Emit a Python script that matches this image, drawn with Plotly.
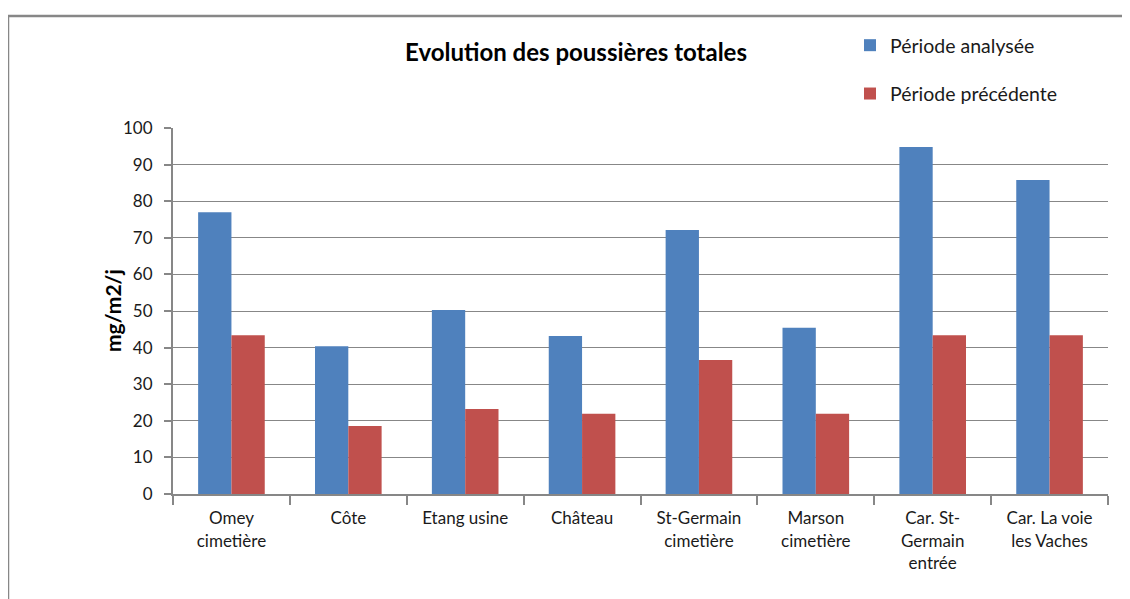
import plotly.graph_objects as go

categories = ["Omey<br>cimetière", "Côte", "Etang usine", "Château",
              "St-Germain<br>cimetière", "Marson<br>cimetière",
              "Car. St-<br>Germain<br>entrée", "Car. La voie<br>les Vaches"]
periode_analysee = [77.0, 40.4, 50.3, 43.2, 72.1, 45.4, 94.8, 85.8]
periode_precedente = [43.4, 18.6, 23.2, 21.9, 36.6, 21.9, 43.4, 43.4]
y_ticks = [0, 10, 20, 30, 40, 50, 60, 70, 80, 90, 100]

FONT = "Lato, 'Open Sans', sans-serif"
GRAY = "#878787"

W, H = 1130, 599
OFF = 8  # page body margin offset in the screenshot
L, T = 173 - OFF, 128 - OFF
R = W - (1108 - OFF)
B = H - (494 - OFF)
PW, PH = W - L - R, H - T - B


def px_x(p):
    return (p - OFF - L) / PW


def px_y(p):
    return (H - B - (p - OFF)) / PH


fig = go.Figure()
fig.add_trace(go.Bar(x=categories, y=periode_analysee, name="Période analysée",
                     marker=dict(color="#4f81bd", line=dict(width=0)), legendgroup="a"))
fig.add_trace(go.Bar(x=categories, y=periode_precedente, name="Période précédente",
                     marker=dict(color="#c0504d", line=dict(width=0)), legendgroup="b"))

fig.update_layout(
    width=W, height=H,
    paper_bgcolor="white", plot_bgcolor="white",
    margin=dict(l=L, r=R, t=T, b=B, autoexpand=False),
    barmode="group", bargap=0.43, bargroupgap=0,
    font=dict(family=FONT, size=16, color="#1a1a1a"),
    title=dict(text="<b>Evolution des poussières totales</b>", x=(576 - OFF) / W,
               xanchor="center", y=1 - (53 - OFF) / H, yanchor="middle",
               font=dict(size=24, color="black")),
    legend=dict(x=px_x(850), xanchor="left", y=px_y(26), yanchor="top",
                traceorder="grouped", tracegroupgap=20, font=dict(size=19.5),
                itemwidth=30, bgcolor="rgba(0,0,0,0)"),
    showlegend=True,
)
fig.update_xaxes(showline=True, linecolor=GRAY, linewidth=2, ticks="outside",
                 tickson="boundaries", ticklen=9, tickcolor=GRAY, tickwidth=1.5,
                 showgrid=False, tickangle=0, mirror=False, automargin=False,
                 ticklabelstandoff=8, tickfont=dict(size=17))
fig.update_yaxes(range=[0, 100], tickvals=y_ticks, showline=True, linecolor=GRAY,
                 linewidth=2, ticks="outside", ticklen=7, tickcolor=GRAY, tickwidth=1.5,
                 ticklabelstandoff=8, tickfont=dict(size=17),
                 showgrid=True, gridcolor=GRAY, gridwidth=1, zeroline=False, automargin=False)

fig.add_annotation(text="<b>mg/m2/j</b>", textangle=-90, xref="paper", yref="paper",
                   x=px_x(112), y=px_y(311), xanchor="center", yanchor="middle",
                   showarrow=False, font=dict(size=21, color="black"))

# outer chart border
fig.add_shape(type="rect", xref="paper", yref="paper",
              x0=px_x(8), x1=px_x(1500), y0=px_y(1000), y1=px_y(16),
              line=dict(color=GRAY, width=2.5), layer="below")

fig.write_html("out.html")
